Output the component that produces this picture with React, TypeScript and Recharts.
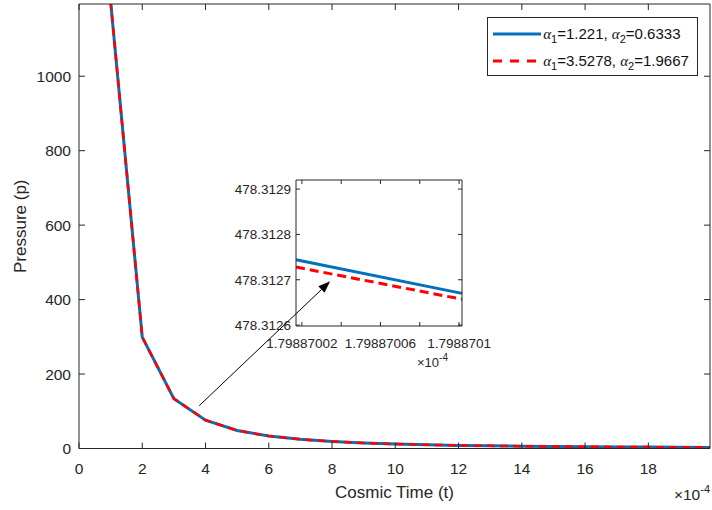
import React from 'react';
import { LineChart, Line, XAxis, YAxis, Legend, ReferenceLine, Label } from 'recharts';

// cosmic time (x 1e-4) and pressure for the two parameter sets
const times = [1, 2, 3, 4, 5, 6, 7, 8, 9, 10, 11, 12, 13, 14, 15, 16, 17, 18, 19, 20];
const pressureA = [1200, 299, 134, 76, 48.5, 33.5, 24.6, 18.8, 14.8, 12, 9.9, 8.3, 7.1, 6.1, 5.3, 4.7, 4.2, 3.7, 3.3, 3.0];
const pressureB = [1200, 299, 134, 76, 48.5, 33.5, 24.6, 18.8, 14.8, 12, 9.9, 8.3, 7.1, 6.1, 5.3, 4.7, 4.2, 3.7, 3.3, 3.0];
const xTicks = [0, 2, 4, 6, 8, 10, 12, 14, 16, 18];
const yTicks = [0, 200, 400, 600, 800, 1000];

const alpha1 = ['1.221', '3.5278'];
const alpha2 = ['0.6333', '1.9667'];
const colors = ['#0072BD', '#FF0000'];

// zoomed inset
const insetTimes = [1.798870017, 1.7988701015];
const insetA = [478.312744, 478.31267];
const insetB = [478.312728, 478.312657];
const insetXTicks = [1.79887002, 1.79887004, 1.79887006, 1.79887008, 1.7988701];
const insetYTicks = [478.3126, 478.3127, 478.3128, 478.3129];

// arrow annotation, main-axis coordinates
const arrowFrom = { t: 3.8, p: 115 };
const arrowTo = { t: 7.94, p: 449 };

const AX = '#262626';
const FONT = '"Liberation Sans", Arial, Helvetica, sans-serif';

const data = times.map((t, i) => ({ t, a: pressureA[i], b: pressureB[i] }));
const insetData = insetTimes.map((t, i) => ({ t, a: insetA[i], b: insetB[i] }));

function Arrow(props: any) {
  const { x1, y1, x2, y2 } = props;
  const ang = Math.atan2(y2 - y1, x2 - x1);
  const len = 12;
  const half = 4.5;
  const bx = x2 - len * Math.cos(ang);
  const by = y2 - len * Math.sin(ang);
  const px = -Math.sin(ang) * half;
  const py = Math.cos(ang) * half;
  return (
    <g>
      <line x1={x1} y1={y1} x2={bx} y2={by} stroke="#000" strokeWidth={1} />
      <polygon points={`${x2},${y2} ${bx + px},${by + py} ${bx - px},${by - py}`} fill="#000" />
    </g>
  );
}

function AlphaText({ i }: { i: number }) {
  const a = { fontFamily: '"Liberation Serif", serif', fontStyle: 'italic' as const };
  const sub = { fontSize: 11, position: 'relative' as const, top: 4 };
  return (
    <span style={{ fontSize: 15, color: '#111', whiteSpace: 'nowrap' }}>
      <span style={a}>α</span>
      <span style={sub}>1</span>={alpha1[i]}, <span style={a}>α</span>
      <span style={sub}>2</span>={alpha2[i]}
    </span>
  );
}

function LegendBox() {
  return (
    <div
      style={{
        position: 'relative',
        width: 209,
        height: 57,
        border: `1px solid ${AX}`,
        background: '#fff',
        fontFamily: FONT,
      }}
    >
      {alpha1.map((_, i) => (
        <div
          key={i}
          style={{ position: 'absolute', left: 4.7, top: 2.5 + i * 26.7, height: 26.7, display: 'flex', alignItems: 'center' }}
        >
          <svg width={48} height={8} style={{ marginRight: 2.5 }}>
            <line
              x1={0}
              y1={4}
              x2={48}
              y2={4}
              stroke={colors[i]}
              strokeWidth={3}
              strokeDasharray={i === 1 ? '9 8' : undefined}
            />
          </svg>
          <AlphaText i={i} />
        </div>
      ))}
    </div>
  );
}

function MainChart() {
  return (
    <LineChart width={712} height={510} data={data} margin={{ top: 3, right: 1, bottom: 0, left: 0 }}>
      <XAxis
        dataKey="t"
        type="number"
        domain={[0, 19.95]}
        allowDataOverflow
        ticks={xTicks}
        interval={0}
        height={61.5}
        stroke={AX}
        tickSize={-6}
        tickMargin={20}
        tick={{ fontSize: 15.5, fill: AX }}
      >
        <Label
          content={({ viewBox }: any) => (
            <text x={viewBox.x + viewBox.width / 2} y={viewBox.y + 49.5} textAnchor="middle" fontSize={17} fill={AX}>
              Cosmic Time (t)
            </text>
          )}
        />
        <Label
          content={({ viewBox }: any) => (
            <text x={viewBox.x + viewBox.width} y={viewBox.y + 51.5} textAnchor="end" fontSize={15.5} fill={AX}>
              <tspan>×10</tspan>
              <tspan dy={-7} fontSize={11}>-4</tspan>
            </text>
          )}
        />
      </XAxis>
      <XAxis
        xAxisId="top"
        dataKey="t"
        orientation="top"
        type="number"
        domain={[0, 19.95]}
        allowDataOverflow
        ticks={xTicks}
        interval={0}
        height={1}
        stroke={AX}
        tickSize={-6}
        tickFormatter={() => ''}
      />
      <YAxis
        type="number"
        domain={[0, 1194]}
        allowDataOverflow
        ticks={yTicks}
        interval={0}
        width={79}
        stroke={AX}
        tickSize={-6}
        tickMargin={14}
        tick={{ fontSize: 15.5, fill: AX }}
      >
        <Label
          content={({ viewBox }: any) => {
            const cx = viewBox.x + 25.5;
            const cy = viewBox.y + viewBox.height / 2;
            return (
              <text x={cx} y={cy} transform={`rotate(-90 ${cx} ${cy})`} textAnchor="middle" fontSize={17} fill={AX}>
                Pressure (p)
              </text>
            );
          }}
        />
      </YAxis>
      <YAxis
        yAxisId="right"
        orientation="right"
        type="number"
        domain={[0, 1194]}
        allowDataOverflow
        ticks={yTicks}
        interval={0}
        width={1}
        stroke={AX}
        tickSize={-6}
        tickFormatter={() => ''}
      />
      {/* invisible series so the mirrored frame axes are registered */}
      <Line
        xAxisId="top"
        yAxisId="right"
        dataKey="a"
        stroke="none"
        dot={false}
        legendType="none"
        isAnimationActive={false}
      />
      <Line type="linear" dataKey="a" stroke={colors[0]} strokeWidth={3} dot={false} isAnimationActive={false} />
      <Line
        type="linear"
        dataKey="b"
        stroke={colors[1]}
        strokeWidth={2.5}
        strokeDasharray="8 5"
        dot={false}
        isAnimationActive={false}
      />
      <ReferenceLine
        segment={[
          { x: arrowFrom.t, y: arrowFrom.p },
          { x: arrowTo.t, y: arrowTo.p },
        ]}
        shape={Arrow}
      />
      <Legend
        layout="horizontal"
        verticalAlign="middle"
        align="center"
        content={() => <LegendBox />}
        wrapperStyle={{ left: 487, top: 17, width: 211, height: 59 }}
      />
    </LineChart>
  );
}

function InsetChart() {
  const fmtX = (v: number, i: number) => (i % 2 === 0 ? String(parseFloat(v.toFixed(8))) : '');
  return (
    <LineChart width={290} height={200} data={insetData} margin={{ top: 9, right: 47, bottom: 0, left: 0 }}>
      <XAxis
        dataKey="t"
        type="number"
        domain={[insetTimes[0], insetTimes[1]]}
        ticks={insetXTicks}
        interval={0}
        height={44}
        stroke={AX}
        tickSize={-4}
        tickMargin={16.5}
        tickFormatter={fmtX}
        tick={{ fontSize: 13.5, fill: AX }}
      >
        <Label
          content={({ viewBox }: any) => (
            <text x={viewBox.x + viewBox.width - 14} y={viewBox.y + 40.7} textAnchor="end" fontSize={13} fill={AX}>
              <tspan>×10</tspan>
              <tspan dy={-6} fontSize={10}>-4</tspan>
            </text>
          )}
        />
      </XAxis>
      <XAxis
        xAxisId="top"
        dataKey="t"
        orientation="top"
        type="number"
        domain={[insetTimes[0], insetTimes[1]]}
        ticks={insetXTicks}
        interval={0}
        height={1}
        stroke={AX}
        tickSize={-4}
        tickFormatter={() => ''}
      />
      <YAxis
        type="number"
        domain={[478.312598, 478.31292]}
        ticks={insetYTicks}
        interval={0}
        width={76}
        stroke={AX}
        tickSize={-4}
        tickMargin={9}
        tickFormatter={(v: number) => v.toFixed(4)}
        tick={{ fontSize: 13.5, fill: AX }}
      />
      <YAxis
        yAxisId="right"
        orientation="right"
        type="number"
        domain={[478.312598, 478.31292]}
        ticks={insetYTicks}
        interval={0}
        width={1}
        stroke={AX}
        tickSize={-4}
        tickFormatter={() => ''}
      />
      <Line
        xAxisId="top"
        yAxisId="right"
        dataKey="a"
        stroke="none"
        dot={false}
        isAnimationActive={false}
      />
      <Line type="linear" dataKey="a" stroke={colors[0]} strokeWidth={3} dot={false} isAnimationActive={false} />
      <Line
        type="linear"
        dataKey="b"
        stroke={colors[1]}
        strokeWidth={3}
        strokeDasharray="9 5"
        dot={false}
        isAnimationActive={false}
      />
    </LineChart>
  );
}

export default function App() {
  return (
    <div
      style={{
        position: 'absolute',
        left: 0,
        top: 0,
        width: 712,
        height: 510,
        background: '#fff',
        fontFamily: FONT,
        overflow: 'hidden',
      }}
    >
      <div style={{ position: 'absolute', left: 220, top: 170 }}>
        <InsetChart />
      </div>
      <div style={{ position: 'absolute', left: 0, top: 0 }}>
        <MainChart />
      </div>
    </div>
  );
}
